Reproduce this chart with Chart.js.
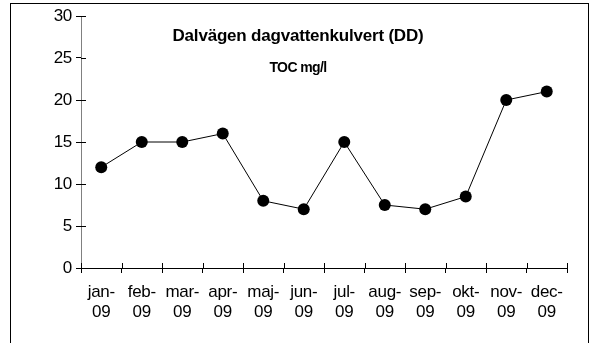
<!DOCTYPE html>
<html>
<head>
<meta charset="utf-8">
<script src="https://cdn.jsdelivr.net/npm/chart.js@4.4.1/dist/chart.umd.min.js"></script>
<style>
    html, body { margin: 0; padding: 0; background: #fff; }
    #wrap { position: relative; width: 593px; height: 343px; }
    #frame {
        position: absolute; left: 10px; top: 3px; width: 579px; height: 350px;
        border: 1.5px solid #000; box-sizing: border-box; pointer-events: none;
    }
</style>
</head>
<body>
<div id="wrap">
    <canvas id="tocChart" width="593" height="343"></canvas>
    <div id="frame"></div>
</div>
<script>
// månader och TOC-värden (mg/l)
const months = [
    ["jan-", "09"], ["feb-", "09"], ["mar-", "09"], ["apr-", "09"], ["maj-", "09"], ["jun-", "09"],
    ["jul-", "09"], ["aug-", "09"], ["sep-", "09"], ["okt-", "09"], ["nov-", "09"], ["dec-", "09"]
];
const tocValues = [12, 15, 15, 16, 8, 7, 15, 7.5, 7, 8.5, 20, 21];
const yMin = 0;
const yMax = 30;
const yStep = 5;

const chartTitle = "Dalvägen dagvattenkulvert (DD)";
const chartSubtitle = "TOC mg/l";

const fontFamily = "'Liberation Sans', Arial, sans-serif";

// lite tätare teckenavstånd på axeltexterna
const tightText = {
    id: "tightText",
    beforeDraw(chart) {
        chart.ctx.letterSpacing = "-0.3px";
    }
};

// rubrik inne i diagramytan
const titlePlugin = {
    id: "innerTitle",
    afterDraw(chart) {
        const ctx = chart.ctx;
        ctx.save();
        ctx.fillStyle = "#000";
        ctx.textAlign = "center";
        ctx.textBaseline = "middle";
        ctx.letterSpacing = "-0.2px";
        ctx.font = "bold 17px " + fontFamily;
        ctx.fillText(chartTitle, 298, 36);
        ctx.letterSpacing = "-0.6px";
        ctx.font = "bold 14px " + fontFamily;
        ctx.fillText(chartSubtitle, 298, 68);
        ctx.restore();
    }
};

// korta streck innanför axlarna (tickmarks som korsar axeln)
const innerTicks = {
    id: "innerTicks",
    afterDraw(chart) {
        const ctx = chart.ctx;
        const x = chart.scales.x;
        const y = chart.scales.y;
        ctx.save();
        ctx.strokeStyle = "#000";
        ctx.lineWidth = 1;
        ctx.beginPath();
        const n = months.length;
        for (let i = 0; i <= n; i++) {
            const px = Math.round(x.left + (x.right - x.left) * i / n) + 0.5;
            ctx.moveTo(px, y.bottom);
            ctx.lineTo(px, y.bottom - 5);
        }
        y.ticks.forEach(t => {
            const py = Math.round(y.getPixelForValue(t.value)) + 0.5;
            ctx.moveTo(x.left, py);
            ctx.lineTo(x.left + 5, py);
        });
        ctx.stroke();
        ctx.restore();
    }
};

const ctx = document.getElementById("tocChart").getContext("2d");
new Chart(ctx, {
    type: "line",
    data: {
        labels: months,
        datasets: [{
            data: tocValues,
            borderColor: "#000",
            borderWidth: 1,
            backgroundColor: "#000",
            pointBackgroundColor: "#000",
            pointBorderColor: "#000",
            pointRadius: 6,
            pointBorderWidth: 0,
            tension: 0,
            fill: false
        }]
    },
    options: {
        responsive: false,
        animation: false,
        layout: { padding: { top: 16, right: 26, left: 0, bottom: 0 } },
        plugins: {
            legend: { display: false },
            tooltip: { enabled: false },
            title: { display: false }
        },
        scales: {
            x: {
                offset: true,
                afterFit: s => { s.height = 75; },
                grid: {
                    offset: true,
                    drawOnChartArea: false,
                    drawTicks: true,
                    tickLength: 5,
                    color: "#000"
                },
                border: { color: "#000", width: 1 },
                ticks: {
                    color: "#000",
                    padding: 9,
                    maxRotation: 0,
                    autoSkip: false,
                    font: { family: fontFamily, size: 17, lineHeight: 1.2 }
                }
            },
            y: {
                min: yMin,
                max: yMax,
                afterFit: s => { s.width = 81; },
                grid: {
                    drawOnChartArea: false,
                    drawTicks: true,
                    tickLength: 5,
                    color: "#000"
                },
                border: { color: "#808080", width: 1 },
                ticks: {
                    stepSize: yStep,
                    color: "#000",
                    padding: 4,
                    font: { family: fontFamily, size: 17 }
                }
            }
        }
    },
    plugins: [tightText, titlePlugin, innerTicks]
});
</script>
</body>
</html>
